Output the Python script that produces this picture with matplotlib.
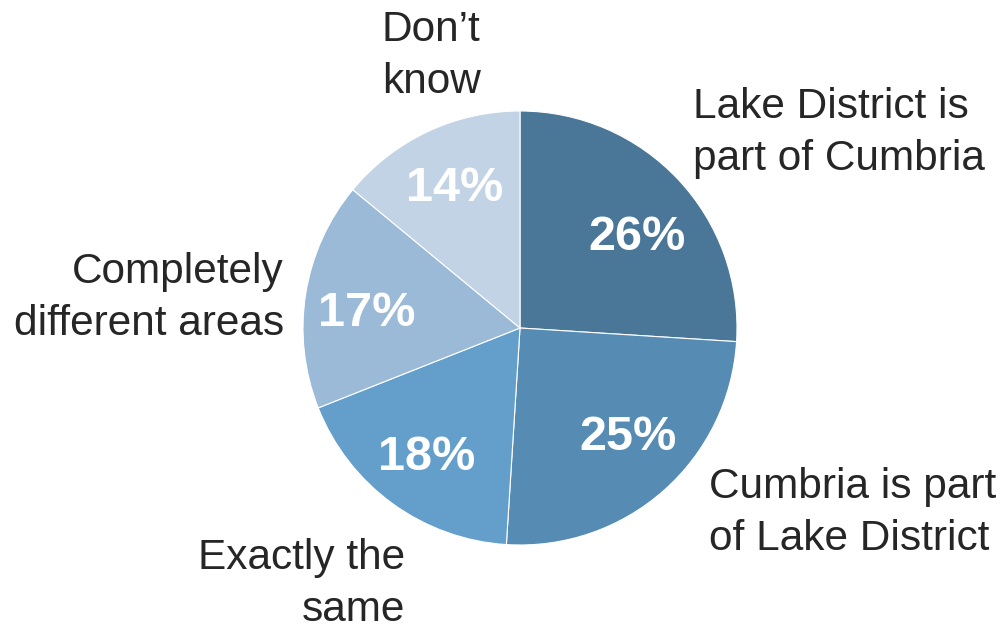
import matplotlib.pyplot as plt

# survey answers, clockwise from 12 o'clock
labels = ["Lake District is\npart of Cumbria", "Cumbria is part\nof Lake District",
          "Exactly the\nsame", "Completely\ndifferent areas", "Don\u2019t\nknow"]
shares = [26, 25, 18, 17, 14]
colors = ["#4a7698", "#568bb3", "#639fca", "#9bbad7", "#c2d3e5"]

plt.rcParams['font.family'] = ['Liberation Sans', 'DejaVu Sans']

fig = plt.figure(figsize=(10.03, 6.3), dpi=100)
ax = fig.add_axes([0, 0, 1, 1])
ax.set_xlim(0, 1003)
ax.set_ylim(0, 630)
ax.set_aspect('equal')
ax.axis('off')

wedges, texts, pcts = ax.pie(shares, colors=colors, startangle=90, counterclock=False,
                             center=(520, 302), radius=217, autopct='%d%%', pctdistance=0.71,
                             wedgeprops=dict(edgecolor='white', linewidth=0.8),
                             textprops=dict(color='white', fontsize=35, fontweight='bold'))
ax.set_xlim(0, 1003)
ax.set_ylim(0, 630)

# small nudges of the percentage labels
nudges = [(5, -15), (6, 6), (-3, -5), (-1, -10), (0, 0)]
for t, (dx, dy) in zip(pcts, nudges):
    x, y = t.get_position()
    t.set_position((x + dx, y + dy))

# category labels placed around the pie
lab_pos = [(693, 497, 'left'), (709, 117, 'left'), (405, 46, 'right'),
           (284, 332, 'right'), (382, 574, 'left')]
for txt, (x, y, ha) in zip(labels, lab_pos):
    ax.text(x, y, txt, ha=ha, va='center', fontsize=30.5, color='#262626', linespacing=1.38)

fig.savefig("out.png", dpi=100)
